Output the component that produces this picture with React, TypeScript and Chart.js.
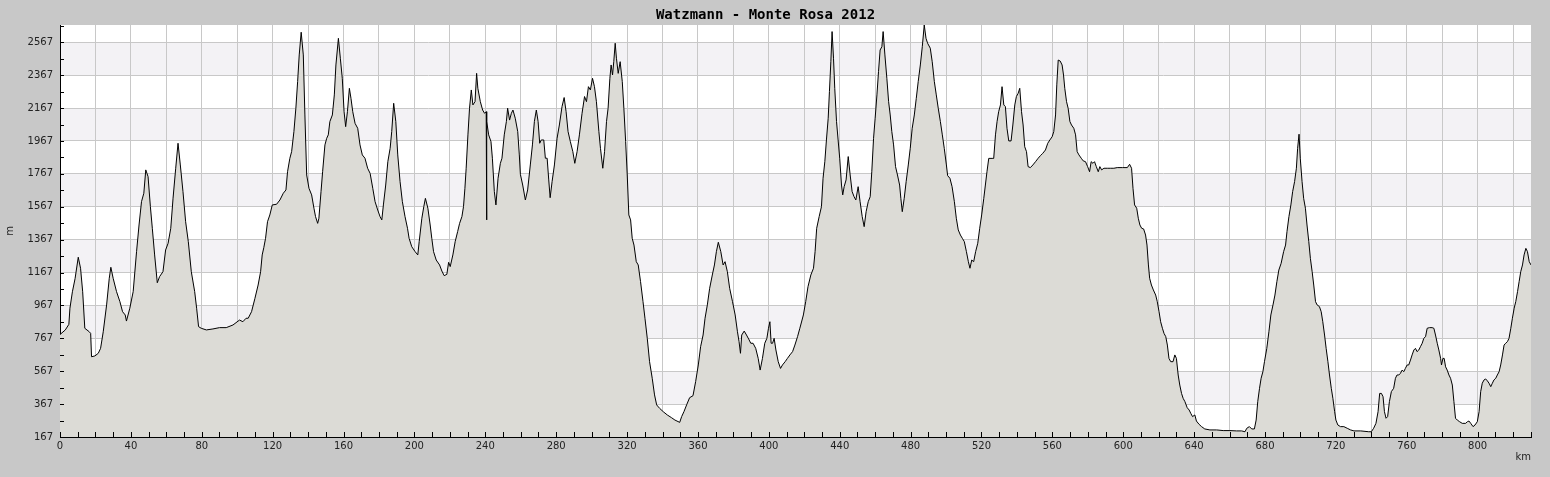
import { useEffect, useRef } from "react";
import { Chart, registerables } from "chart.js";
import type { Plugin } from "chart.js";

Chart.register(...registerables);

const chartTitle = "Watzmann - Monte Rosa 2012";

// distance along the route (km)
const distanceKm = [
  0, 3, 5, 5.6, 7, 8.5, 10.3, 11.6, 12.8, 14,
  16.5, 17.3, 17.8, 19.7, 21.6, 22.9, 24.4, 26.3, 27.8, 28.7,
  30, 31.9, 33.8, 35.3, 36.8, 37.5, 39.4, 41.3, 43.2, 44.6,
  46, 47.3, 48.4, 49.7, 51, 52.1, 53.4, 54.9, 56.2, 58.1,
  59.6, 61, 62.5, 63.8, 65.3, 66.6, 67.9, 69.4, 70.9, 72.4,
  74.1, 76, 77.1, 78.2, 79.7, 82.6, 86.3, 90, 93.8, 97.6,
  101.3, 103.2, 105, 106.2, 108.1, 110, 111.8, 113.2, 114.1, 115,
  116, 117.1, 118.4, 119.8, 122.2, 124.1, 126, 127.5, 128.4, 129.7,
  130.7, 132, 133.1, 134.1, 135, 136.1, 137.3, 138.2, 139.2, 140.5,
  142, 143.3, 144.2, 145.4, 146.1, 147.3, 148.2, 149.5, 150.5, 151.4,
  152.3, 153.7, 154.8, 155.7, 157.1, 158.2, 159.3, 160.3, 161.2, 162.2,
  163.3, 164.2, 165.2, 166.5, 168, 169.3, 170.6, 172.1, 173.6, 175,
  176.5, 177.8, 179.3, 180.6, 181.6, 182.5, 183.8, 185, 186.3, 187.2,
  188.3, 189.5, 190.6, 191.9, 193.2, 194.7, 196.1, 197, 198.5, 200.4,
  201.9, 202.7, 204.2, 205.3, 206.2, 207.6, 208.9, 209.8, 210.8, 212.3,
  214.2, 215.5, 216.8, 218.3, 219.3, 220.2, 221.7, 223, 224.4, 225.5,
  226.8, 227.7, 228.5, 229.2, 230.2, 231.1, 232.1, 233, 234.2, 235.1,
  235.8, 237.2, 238.5, 239.6, 240.5, 240.7, 240.9, 241.9, 243.2, 244,
  245.1, 246, 247.2, 248.5, 249.4, 250.7, 251.9, 252.6, 253.7, 254.7,
  255.6, 256.9, 258.3, 259.2, 259.8, 261.1, 262.6, 263.9, 265.4, 266.6,
  267.7, 268.8, 269.8, 270.7, 271.6, 273, 273.9, 274.9, 275.8, 276.6,
  277.7, 279, 280.5, 281.8, 283.3, 284.5, 285.6, 286.7, 288, 289.4,
  290.5, 291.8, 293.1, 294.6, 296, 297.1, 298.2, 299.3, 300.5, 301.6,
  302.7, 304.1, 305, 306.3, 307.3, 308.4, 309.3, 310.3, 311, 311.8,
  312.5, 313.3, 314, 315, 316.1, 317.3, 318.2, 319.2, 320.1, 321,
  322, 322.9, 323.9, 325.2, 326.3, 327.6, 329, 330.1, 331.4, 332.7,
  334.2, 335.5, 336.7, 338.4, 340.4, 342.7, 345, 347, 349.7, 350.8,
  352.1, 353.6, 355.3, 357.2, 358.7, 360.2, 361.5, 362.9, 364, 365.3,
  366.6, 368.1, 369.3, 370.4, 371.5, 372.9, 374.2, 375.3, 376.6, 377.9,
  379.5, 381, 382.3, 383.2, 384, 384.7, 386.1, 387.4, 388.9, 389.8,
  391.1, 392.6, 394, 395.1, 396.4, 397.7, 398.9, 399.8, 400.6, 401.3,
  402.1, 403, 404, 405.3, 406.6, 407.7, 409.2, 410.5, 411.9, 413.4,
  414.7, 416.2, 417.5, 418, 419.5, 420.8, 422.1, 423.7, 425.2, 426.1,
  427, 428.4, 429.7, 430.6, 431.6, 432.5, 433.5, 434.2, 435, 435.7,
  436.5, 437.2, 438.2, 439.1, 440, 441, 441.7, 442.5, 443.6, 444.8,
  445.9, 447, 448.1, 449.1, 450.4, 451.5, 452.7, 453.8, 454.9, 456.1,
  457.2, 458.1, 459.1, 460, 461, 461.9, 462.8, 463.8, 464.5, 465.5,
  466.6, 467.6, 468.5, 469.4, 470.4, 471.5, 472.6, 473.8, 474.5, 475.3,
  476.4, 477.5, 478.7, 479.8, 480.9, 482.1, 483.2, 484.3, 485.5, 486.6,
  487.7, 488.7, 489.6, 491.1, 492.2, 493.4, 494.5, 495.6, 496.8, 497.9,
  499, 500.2, 500.9, 502.2, 503.4, 504.7, 505.8, 506.9, 508.1, 509.2,
  510.3, 511.5, 512.6, 513.5, 514.5, 515.6, 516.7, 517.9, 519, 520.1,
  521.3, 522.2, 523.1, 524.1, 526, 526.9, 527.9, 528.8, 529.7, 530.7,
  531.6, 532.6, 533.5, 534.4, 535.4, 536.7, 537.7, 538.8, 539.7, 540.7,
  541.6, 542.6, 543.5, 544.4, 545.4, 546.3, 547.6, 549, 550.5, 552,
  553.3, 554.6, 556.1, 557.4, 558.6, 559.9, 560.8, 561.8, 562.5, 563.3,
  564.4, 565.5, 566.3, 567, 568, 568.9, 569.9, 570.8, 572.1, 573.1,
  574, 575, 576.3, 577.4, 578.7, 579.9, 581, 581.9, 582.9, 583.8,
  584.8, 585.9, 586.8, 587.8, 589.1, 591, 592.9, 594.7, 596.6, 599.5,
  602.3, 603.6, 604.7, 605.5, 606.4, 607.6, 608.5, 609.4, 610.4, 611.5,
  612.6, 613.4, 614.2, 614.9, 615.9, 617, 618.3, 619.2, 620.2, 621.1,
  622.1, 623, 624, 624.9, 625.8, 626.8, 628.1, 629.1, 630, 631,
  631.9, 632.9, 633.8, 634.8, 636.1, 637.2, 638.1, 639.1, 640.4, 641.3,
  642.8, 644.2, 646, 648.9, 652.7, 656.4, 660.2, 664, 666.8, 668.7,
  669.7, 671.2, 672.5, 674, 675, 675.9, 676.9, 677.8, 678.8, 679.7,
  681, 682.2, 683.3, 684.5, 685.6, 686.7, 687.8, 689.1, 690.5, 691.6,
  692.4, 693.5, 694.6, 695.6, 696.7, 697.7, 698.4, 699.2, 699.9, 700.9,
  701.8, 702.8, 703.7, 704.7, 705.6, 706.6, 707.5, 708.5, 709.4, 710.7,
  711.7, 712.6, 713.6, 714.5, 715.5, 716.4, 717.4, 718.3, 719.3, 720,
  721.1, 722.6, 724.5, 726.4, 728.3, 730.2, 734, 738.5, 740, 741.3,
  742.6, 743.8, 744.7, 745.7, 746.6, 747.4, 748.3, 749.2, 750.2, 751.3,
  752.6, 753.6, 754.5, 755.5, 756.4, 757.4, 758.3, 759.2, 760.2, 761.1,
  762.1, 763, 764, 764.9, 765.8, 766.8, 767.7, 768.7, 769.6, 770.6,
  771.5, 772.8, 774.3, 775.3, 776.2, 777.2, 778.1, 779.1, 779.6, 780.4,
  781.1, 781.9, 782.8, 783.8, 784.7, 785.7, 786.6, 787.5, 788.5, 789.8,
  791.3, 793.2, 794.2, 795.1, 796.1, 797.4, 798.5, 799.8, 800.8, 801.7,
  802.6, 803.6, 804.5, 805.5, 806.4, 807.4, 808.3, 809.2, 810.2, 811.1,
  812.1, 813, 814, 814.9, 815.8, 816.8, 817.7, 818.7, 819.6, 820.6,
  821.5, 822.5, 823.4, 824.3, 825.3, 826.2, 827.2, 828.1, 829.1, 830.1,
];

// elevation (m), one per distance
const elevationM = [
  790, 818, 852, 950, 1050, 1130, 1260, 1193, 1050, 828,
  807, 797, 655, 660, 676, 706, 807, 970, 1132, 1199,
  1132, 1051, 990, 929, 909, 872, 950, 1051, 1294, 1456,
  1598, 1649, 1791, 1750, 1568, 1436, 1274, 1105, 1142, 1172,
  1304, 1345, 1436, 1619, 1801, 1953, 1821, 1659, 1476, 1355,
  1172, 1051, 950, 838, 828, 818, 824, 832, 832, 848,
  878, 868, 889, 889, 929, 1010, 1091, 1172, 1274, 1318,
  1375, 1476, 1517, 1578, 1582, 1608, 1649, 1669, 1780, 1861,
  1902, 2024, 2166, 2328, 2490, 2628, 2490, 2125, 1760, 1679,
  1639, 1558, 1507, 1466, 1497, 1659, 1780, 1943, 1983, 2004,
  2085, 2125, 2247, 2429, 2591, 2470, 2348, 2145, 2054, 2145,
  2287, 2226, 2145, 2074, 2044, 1943, 1882, 1862, 1801, 1770,
  1679, 1598, 1547, 1507, 1487, 1578, 1699, 1841, 1922, 2024,
  2196, 2085, 1882, 1720, 1598, 1507, 1436, 1375, 1324, 1294,
  1274, 1355, 1497, 1568, 1618, 1558, 1456, 1375, 1294, 1243,
  1213, 1176, 1148, 1156, 1229, 1203, 1274, 1355, 1416, 1466,
  1507, 1568, 1679, 1801, 2004, 2166, 2277, 2186, 2206, 2378,
  2287, 2206, 2155, 2135, 2145, 1487, 2085, 2004, 1963, 1862,
  1659, 1578, 1740, 1831, 1862, 2004, 2085, 2166, 2094, 2135,
  2155, 2105, 2024, 1882, 1764, 1699, 1608, 1669, 1821, 1943,
  2085, 2155, 2085, 1953, 1973, 1973, 1862, 1862, 1730, 1622,
  1720, 1821, 1983, 2064, 2176, 2231, 2145, 2024, 1963, 1902,
  1831, 1902, 2004, 2135, 2237, 2206, 2297, 2277, 2348, 2297,
  2206, 2024, 1922, 1801, 1902, 2085, 2166, 2348, 2429, 2368,
  2449, 2561, 2470, 2378, 2449, 2328, 2166, 1963, 1760, 1517,
  1487, 1375, 1334, 1233, 1213, 1112, 990, 889, 767, 625,
  524, 423, 362, 341, 321, 301, 285, 270, 256, 291,
  321, 362, 406, 418, 504, 605, 716, 787, 889, 970,
  1071, 1152, 1213, 1294, 1351, 1294, 1213, 1233, 1172, 1071,
  990, 909, 807, 747, 676, 787, 811, 787, 757, 737,
  737, 706, 645, 574, 645, 737, 767, 828, 868, 737,
  737, 767, 696, 625, 584, 605, 625, 645, 666, 686,
  726, 777, 828, 848, 909, 990, 1081, 1152, 1193, 1294,
  1436, 1507, 1568, 1740, 1841, 1973, 2105, 2267, 2449, 2632,
  2470, 2287, 2085, 1973, 1862, 1699, 1639, 1689, 1730, 1872,
  1760, 1659, 1628, 1608, 1689, 1598, 1507, 1446, 1537, 1598,
  1628, 1780, 1983, 2105, 2247, 2389, 2520, 2540, 2632, 2490,
  2348, 2206, 2125, 2024, 1943, 1811, 1760, 1699, 1618, 1537,
  1618, 1720, 1821, 1922, 2044, 2125, 2226, 2328, 2429, 2540,
  2672, 2591, 2561, 2531, 2449, 2328, 2247, 2166, 2085, 2004,
  1922, 1821, 1756, 1740, 1689, 1598, 1497, 1426, 1395, 1375,
  1355, 1294, 1233, 1193, 1243, 1233, 1294, 1345, 1436, 1517,
  1618, 1699, 1780, 1861, 1861, 1861, 2004, 2085, 2145, 2186,
  2297, 2186, 2176, 2044, 1967, 1967, 2064, 2186, 2237, 2257,
  2287, 2145, 2064, 1932, 1902, 1811, 1805, 1821, 1841, 1862,
  1878, 1892, 1912, 1953, 1973, 1993, 2024, 2125, 2308, 2459,
  2453, 2429, 2368, 2287, 2206, 2166, 2085, 2064, 2044, 2004,
  1902, 1882, 1862, 1846, 1841, 1811, 1780, 1841, 1831, 1841,
  1811, 1780, 1811, 1791, 1801, 1801, 1801, 1801, 1805, 1805,
  1805, 1825, 1801, 1679, 1578, 1558, 1497, 1456, 1436, 1432,
  1395, 1334, 1213, 1132, 1091, 1061, 1030, 990, 929, 868,
  828, 797, 777, 726, 645, 625, 625, 666, 645, 544,
  483, 432, 402, 382, 345, 331, 311, 291, 301, 264,
  244, 230, 216, 210, 210, 206, 206, 204, 204, 199,
  220, 230, 216, 216, 270, 382, 463, 524, 564, 625,
  706, 807, 909, 970, 1030, 1112, 1182, 1223, 1294, 1334,
  1416, 1507, 1578, 1659, 1720, 1801, 1922, 2008, 1862, 1720,
  1618, 1558, 1456, 1355, 1253, 1172, 1091, 990, 970, 960,
  929, 868, 787, 706, 625, 544, 463, 402, 321, 270,
  240, 230, 230, 220, 210, 204, 204, 199, 199, 220,
  250, 321, 432, 432, 412, 321, 281, 291, 382, 443,
  463, 524, 544, 544, 554, 574, 564, 584, 605, 605,
  635, 666, 696, 706, 686, 696, 716, 737, 767, 777,
  828, 832, 832, 828, 787, 737, 696, 645, 605, 645,
  645, 594, 574, 544, 524, 483, 382, 281, 270, 260,
  250, 250, 260, 264, 250, 230, 240, 260, 321, 443,
  494, 514, 520, 508, 494, 473, 494, 514, 524, 544,
  564, 605, 666, 726, 737, 747, 767, 828, 889, 950,
  990, 1051, 1112, 1172, 1213, 1274, 1314, 1294, 1233, 1213,
];

const yTickLabels = [167, 367, 567, 767, 967, 1167, 1367, 1567, 1767, 1967, 2167, 2367, 2567];
const xTickLabels = [0, 40, 80, 120, 160, 200, 240, 280, 320, 360, 400, 440, 480, 520, 560, 600, 640, 680, 720, 760, 800];

const X_MAX = 830.1;
const Y_MIN = 167;
const Y_MAX = 2672;

// white plot area with alternating bands, and inward minor tick marks
const plotDecor: Plugin<"line"> = {
  id: "plotDecor",
  beforeDraw(chart) {
    const { ctx, chartArea: area } = chart;
    const y = chart.scales.y;
    ctx.save();
    ctx.fillStyle = "#ffffff";
    ctx.fillRect(area.left, area.top, area.right - area.left, area.bottom - area.top);
    ctx.fillStyle = "#f3f2f5";
    yTickLabels.forEach((v, i) => {
      if (i % 2 === 1) {
        const top = y.getPixelForValue(Math.min(v + 200, Y_MAX));
        const bottom = y.getPixelForValue(v);
        ctx.fillRect(area.left, top, area.right - area.left, bottom - top);
      }
    });
    ctx.restore();
  },
  afterDatasetsDraw(chart) {
    const { ctx, chartArea: area } = chart;
    const { x, y } = chart.scales;
    ctx.save();
    ctx.strokeStyle = "#000000";
    ctx.lineWidth = 1;
    ctx.beginPath();
    for (let v = 0; v <= X_MAX; v += 10) {
      const px = Math.round(x.getPixelForValue(v)) + 0.5;
      ctx.moveTo(px, area.bottom);
      ctx.lineTo(px, area.bottom - 5);
    }
    for (let v = Y_MIN; v <= Y_MAX; v += 100) {
      const py = Math.round(y.getPixelForValue(v)) + 0.5;
      ctx.moveTo(area.left, py);
      ctx.lineTo(area.left + 4, py);
    }
    ctx.stroke();
    ctx.restore();
  },
};

export default function App() {
  const canvasRef = useRef<HTMLCanvasElement>(null);

  useEffect(() => {
    document.body.style.margin = "0";
    const tickFont = { family: "'DejaVu Sans', sans-serif", size: 10 };

    const chart = new Chart(canvasRef.current!, {
      type: "line",
      data: {
        datasets: [
          {
            label: "Elevation",
            data: distanceKm.map((km, i) => ({ x: km, y: elevationM[i] })),
            borderColor: "#000000",
            borderWidth: 1,
            backgroundColor: "#dcdbd6",
            fill: "start",
            pointRadius: 0,
            tension: 0,
          },
        ],
      },
      options: {
        animation: false,
        responsive: false,
        events: [],
        layout: { padding: { left: 0, right: 19, top: 0, bottom: 0 } },
        plugins: {
          legend: { display: false },
          tooltip: { enabled: false },
          title: {
            display: true,
            text: chartTitle,
            color: "#000000",
            font: { family: "'DejaVu Sans Mono', monospace", size: 14, weight: "bold", lineHeight: 1 },
            padding: { top: 8, bottom: 3 },
          },
        },
        scales: {
          x: {
            type: "linear",
            min: 0,
            max: X_MAX,
            afterBuildTicks: (scale) => {
              const ticks = [];
              for (let v = 0; v <= X_MAX; v += 20) ticks.push({ value: v });
              scale.ticks = ticks;
            },
            afterFit: (scale) => {
              scale.height = 40;
            },
            ticks: {
              autoSkip: false,
              maxRotation: 0,
              padding: 3,
              color: "#222222",
              font: tickFont,
              callback: (value) => (xTickLabels.includes(Number(value)) ? String(value) : ""),
            },
            grid: { color: "#c8c8c8", drawTicks: false },
            border: { color: "#000000", width: 1 },
            title: {
              display: true,
              text: "km",
              align: "end",
              color: "#222222",
              font: tickFont,
              padding: { top: 0, bottom: 14 },
            },
          },
          y: {
            type: "linear",
            min: Y_MIN,
            max: Y_MAX,
            afterBuildTicks: (scale) => {
              scale.ticks = yTickLabels.map((v) => ({ value: v }));
            },
            afterFit: (scale) => {
              scale.width = 60;
            },
            ticks: {
              padding: 7,
              color: "#222222",
              font: tickFont,
              callback: (value) => String(value),
            },
            grid: { color: "#c8c8c8", drawTicks: false },
            border: { color: "#000000", width: 1 },
            title: {
              display: true,
              text: "m",
              color: "#222222",
              font: tickFont,
              padding: { top: 4, bottom: 0 },
            },
          },
        },
      },
      plugins: [plotDecor],
    });

    return () => chart.destroy();
  }, []);

  return (
    <div style={{ width: 1550, height: 477, background: "#c8c8c8" }}>
      <canvas ref={canvasRef} width={1550} height={477}></canvas>
    </div>
  );
}
